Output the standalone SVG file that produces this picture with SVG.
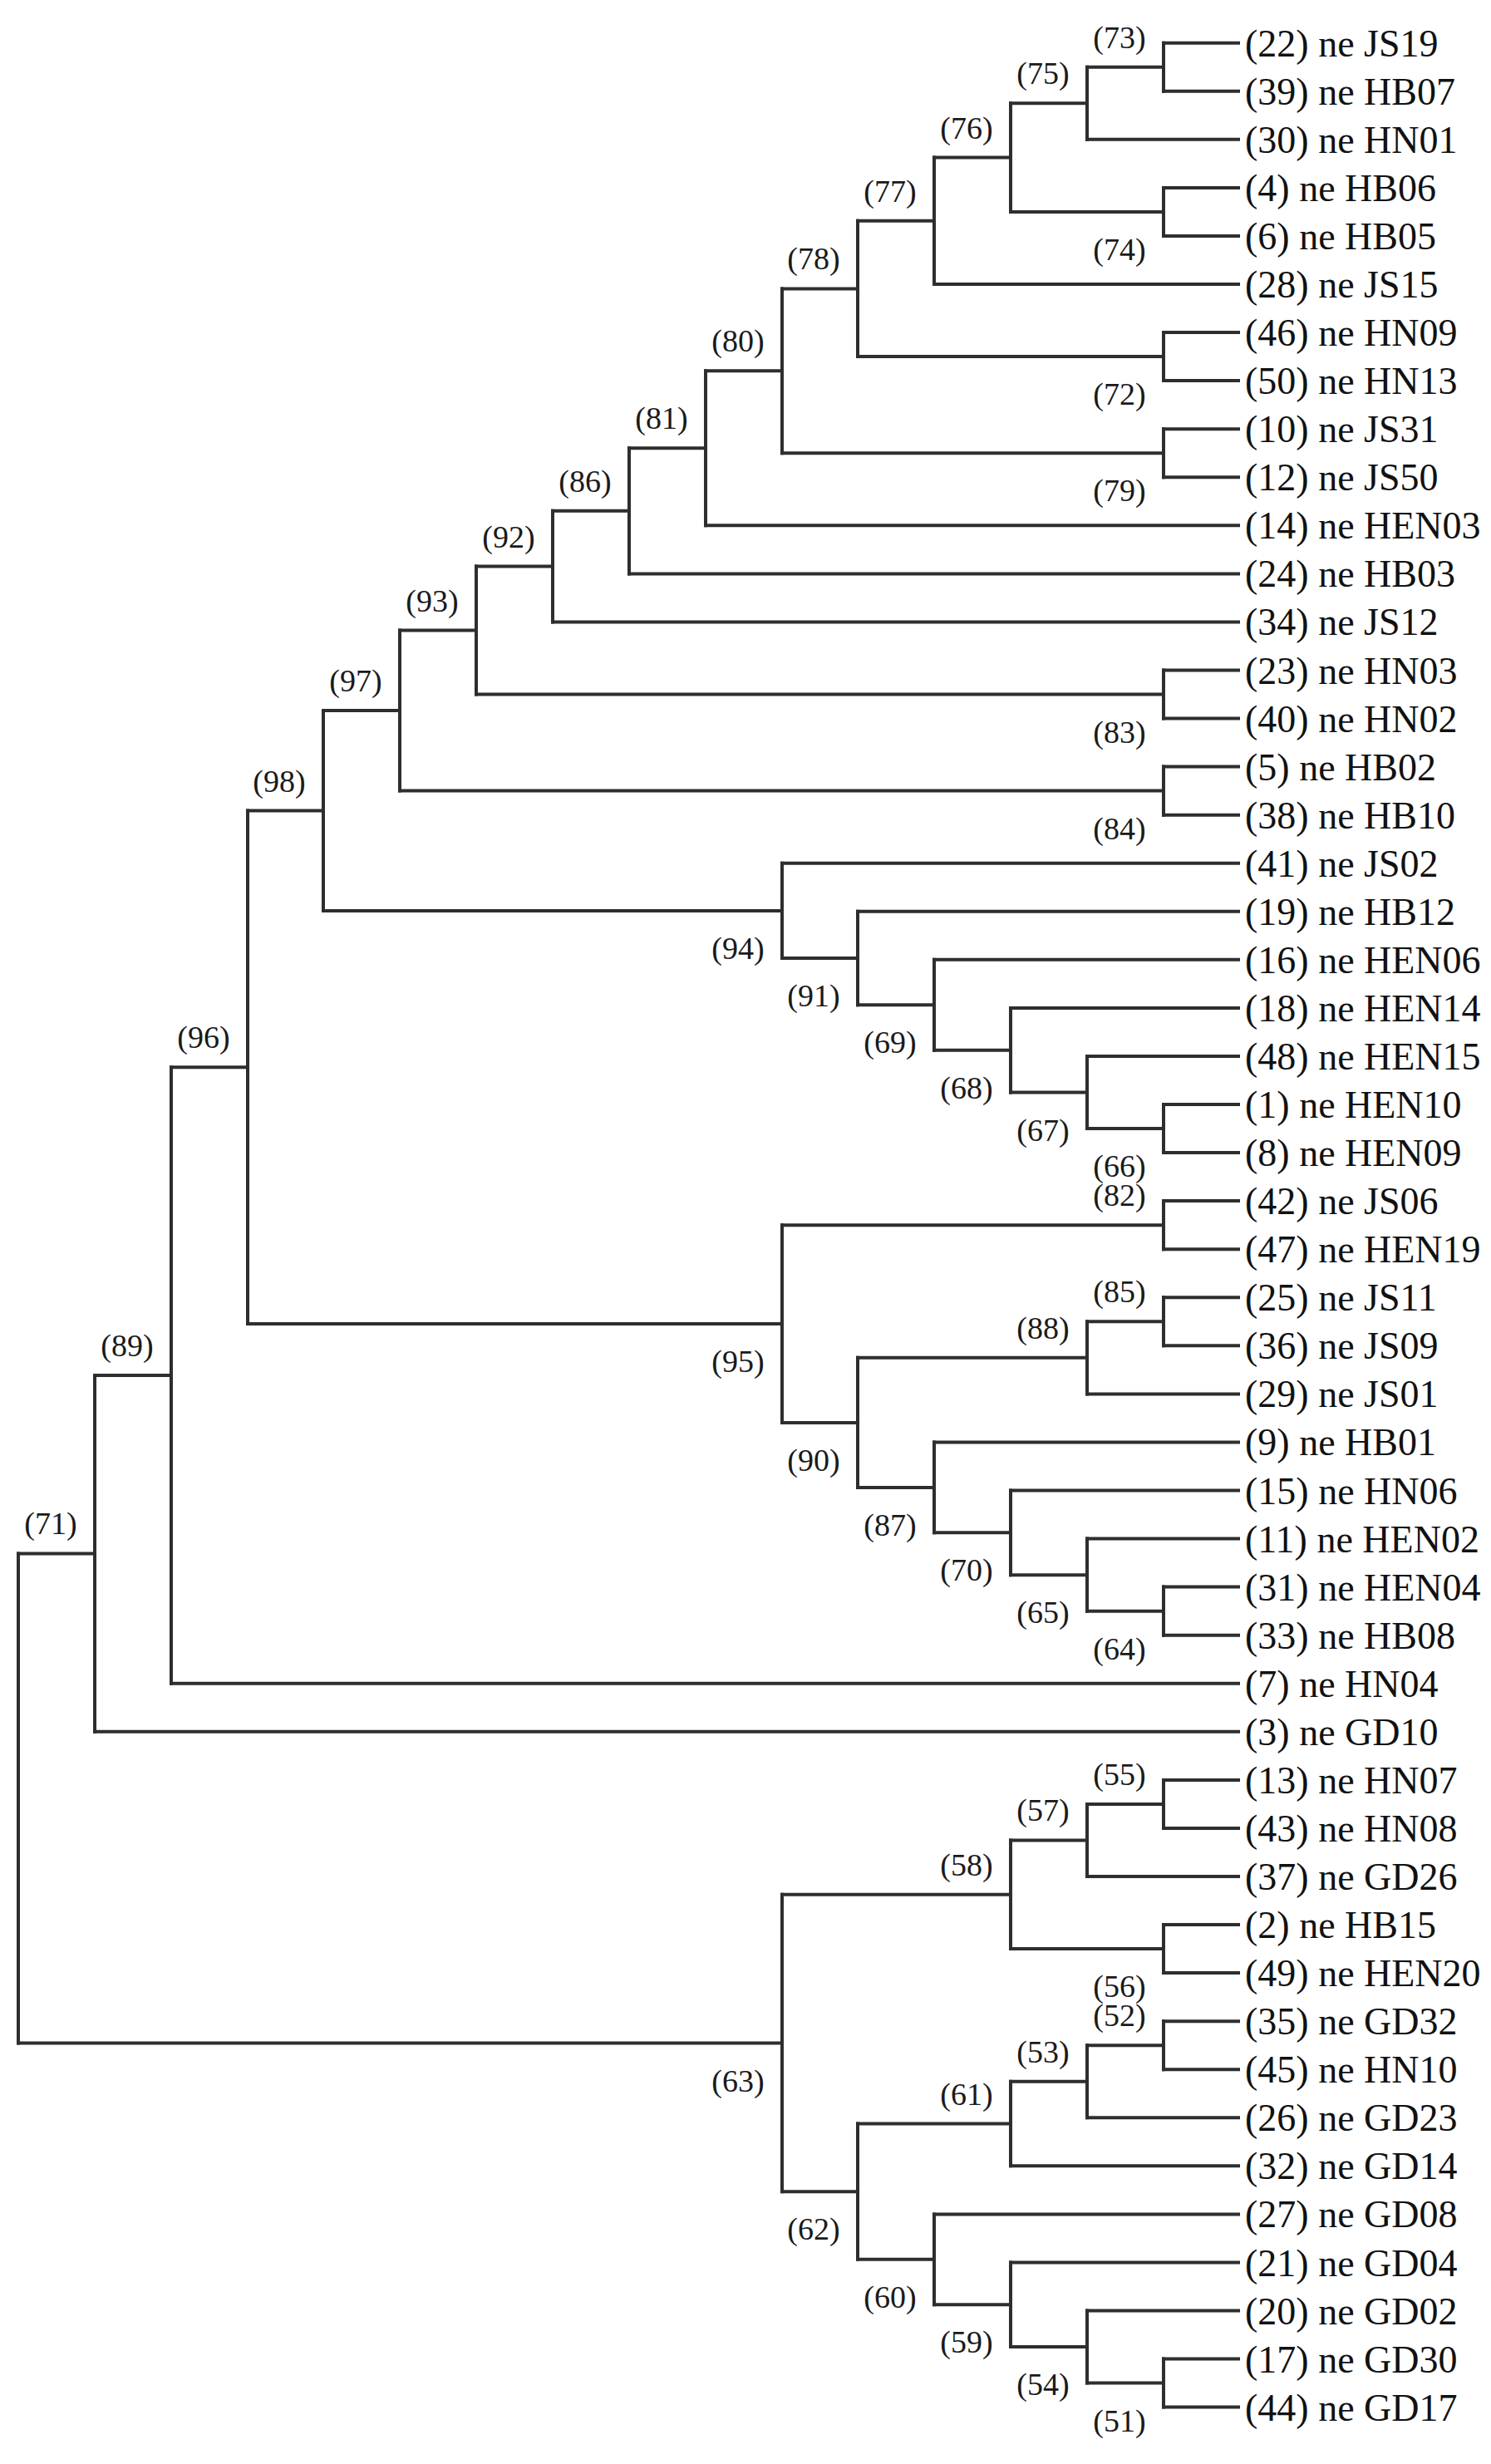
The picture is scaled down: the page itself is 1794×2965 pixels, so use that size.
<svg xmlns="http://www.w3.org/2000/svg" width="1794" height="2965" viewBox="0 0 1794 2965">
<style>
.br{fill:none;stroke:#2e2e2e;stroke-width:4;stroke-linecap:square}
.leaf{font-family:"Liberation Serif","Times New Roman",serif;font-size:46px;fill:#111}
.bl{font-family:"Liberation Serif","Times New Roman",serif;font-size:38px;fill:#1a1a1a;text-anchor:middle}
</style>
<rect width="1794" height="2965" fill="#fff"/>
<g id="connectors" class="br">
<path d="M22 1869.4V2458.5"/>
<path d="M1308 80.7H1400M1400 51.7V109.8"/>
<path d="M1216 124.3H1308M1308 80.7V167.8"/>
<path d="M1216 254.9H1400M1400 225.9V283.9"/>
<path d="M1124 189.6H1216M1216 124.3V254.9"/>
<path d="M1032 265.8H1124M1124 189.6V342"/>
<path d="M1032 429.1H1400M1400 400.1V458.1"/>
<path d="M941 347.4H1032M1032 265.8V429.1"/>
<path d="M941 545.2H1400M1400 516.2V574.2"/>
<path d="M849 446.3H941M941 347.4V545.2"/>
<path d="M757 539.3H849M849 446.3V632.3"/>
<path d="M665 614.8H757M757 539.3V690.4"/>
<path d="M573 681.6H665M665 614.8V748.4"/>
<path d="M573 835.5H1400M1400 806.5V864.5"/>
<path d="M481 758.6H573M573 681.6V835.5"/>
<path d="M481 951.6H1400M1400 922.6V980.7"/>
<path d="M389 855.1H481M481 758.6V951.6"/>
<path d="M1308 1358.1H1400M1400 1329V1387.1"/>
<path d="M1216 1314.5H1308M1308 1271V1358.1"/>
<path d="M1124 1263.7H1216M1216 1212.9V1314.5"/>
<path d="M1032 1209.3H1124M1124 1154.8V1263.7"/>
<path d="M941 1153H1032M1032 1096.8V1209.3"/>
<path d="M389 1095.9H941M941 1038.7V1153"/>
<path d="M298 975.5H389M389 855.1V1095.9"/>
<path d="M941 1474.2H1400M1400 1445.1V1503.2"/>
<path d="M1308 1590.3H1400M1400 1561.3V1619.3"/>
<path d="M1032 1633.8H1308M1308 1590.3V1677.4"/>
<path d="M1308 1938.7H1400M1400 1909.6V1967.7"/>
<path d="M1216 1895.2H1308M1308 1851.6V1938.7"/>
<path d="M1124 1844.3H1216M1216 1793.5V1895.2"/>
<path d="M1032 1789.9H1124M1124 1735.4V1844.3"/>
<path d="M941 1711.9H1032M1032 1633.8V1789.9"/>
<path d="M298 1593H941M941 1474.2V1711.9"/>
<path d="M206 1284.2H298M298 975.5V1593"/>
<path d="M114 1655H206M206 1284.2V2025.7"/>
<path d="M22 1869.4H114M114 1655V2083.8"/>
<path d="M1308 2170.9H1400M1400 2141.9V2199.9"/>
<path d="M1216 2214.4H1308M1308 2170.9V2258"/>
<path d="M1216 2345.1H1400M1400 2316V2374.1"/>
<path d="M941 2279.8H1216M1216 2214.4V2345.1"/>
<path d="M1308 2461.2H1400M1400 2432.2V2490.2"/>
<path d="M1216 2504.7H1308M1308 2461.2V2548.3"/>
<path d="M1032 2555.5H1216M1216 2504.7V2606.3"/>
<path d="M1308 2867.6H1400M1400 2838.6V2896.6"/>
<path d="M1216 2824.1H1308M1308 2780.5V2867.6"/>
<path d="M1124 2773.3H1216M1216 2722.5V2824.1"/>
<path d="M1032 2718.8H1124M1124 2664.4V2773.3"/>
<path d="M941 2637.2H1032M1032 2555.5V2718.8"/>
<path d="M22 2458.5H941M941 2279.8V2637.2"/>
<path d="M1400 51.7H1490M1400 109.8H1490M1308 167.8H1490M1400 225.9H1490M1400 283.9H1490M1124 342H1490M1400 400.1H1490M1400 458.1H1490M1400 516.2H1490M1400 574.2H1490M849 632.3H1490M757 690.4H1490M665 748.4H1490M1400 806.5H1490M1400 864.5H1490M1400 922.6H1490M1400 980.7H1490M941 1038.7H1490M1032 1096.8H1490M1124 1154.8H1490M1216 1212.9H1490M1308 1271H1490M1400 1329H1490M1400 1387.1H1490M1400 1445.1H1490M1400 1503.2H1490M1400 1561.3H1490M1400 1619.3H1490M1308 1677.4H1490M1124 1735.4H1490M1216 1793.5H1490M1308 1851.6H1490M1400 1909.6H1490M1400 1967.7H1490M206 2025.7H1490M114 2083.8H1490M1400 2141.9H1490M1400 2199.9H1490M1308 2258H1490M1400 2316H1490M1400 2374.1H1490M1400 2432.2H1490M1400 2490.2H1490M1308 2548.3H1490M1216 2606.3H1490M1124 2664.4H1490M1216 2722.5H1490M1308 2780.5H1490M1400 2838.6H1490M1400 2896.6H1490"/>
</g>
<g id="leaves" class="leaf">
<g id="leaf-22"><text x="1498" y="67.7">(22) ne JS19</text></g>
<g id="leaf-39"><text x="1498" y="125.8">(39) ne HB07</text></g>
<g id="leaf-30"><text x="1498" y="183.8">(30) ne HN01</text></g>
<g id="leaf-4"><text x="1498" y="241.9">(4) ne HB06</text></g>
<g id="leaf-6"><text x="1498" y="299.9">(6) ne HB05</text></g>
<g id="leaf-28"><text x="1498" y="358">(28) ne JS15</text></g>
<g id="leaf-46"><text x="1498" y="416.1">(46) ne HN09</text></g>
<g id="leaf-50"><text x="1498" y="474.1">(50) ne HN13</text></g>
<g id="leaf-10"><text x="1498" y="532.2">(10) ne JS31</text></g>
<g id="leaf-12"><text x="1498" y="590.2">(12) ne JS50</text></g>
<g id="leaf-14"><text x="1498" y="648.3">(14) ne HEN03</text></g>
<g id="leaf-24"><text x="1498" y="706.4">(24) ne HB03</text></g>
<g id="leaf-34"><text x="1498" y="764.4">(34) ne JS12</text></g>
<g id="leaf-23"><text x="1498" y="822.5">(23) ne HN03</text></g>
<g id="leaf-40"><text x="1498" y="880.5">(40) ne HN02</text></g>
<g id="leaf-5"><text x="1498" y="938.6">(5) ne HB02</text></g>
<g id="leaf-38"><text x="1498" y="996.7">(38) ne HB10</text></g>
<g id="leaf-41"><text x="1498" y="1054.7">(41) ne JS02</text></g>
<g id="leaf-19"><text x="1498" y="1112.8">(19) ne HB12</text></g>
<g id="leaf-16"><text x="1498" y="1170.8">(16) ne HEN06</text></g>
<g id="leaf-18"><text x="1498" y="1228.9">(18) ne HEN14</text></g>
<g id="leaf-48"><text x="1498" y="1287">(48) ne HEN15</text></g>
<g id="leaf-1"><text x="1498" y="1345">(1) ne HEN10</text></g>
<g id="leaf-8"><text x="1498" y="1403.1">(8) ne HEN09</text></g>
<g id="leaf-42"><text x="1498" y="1461.1">(42) ne JS06</text></g>
<g id="leaf-47"><text x="1498" y="1519.2">(47) ne HEN19</text></g>
<g id="leaf-25"><text x="1498" y="1577.3">(25) ne JS11</text></g>
<g id="leaf-36"><text x="1498" y="1635.3">(36) ne JS09</text></g>
<g id="leaf-29"><text x="1498" y="1693.4">(29) ne JS01</text></g>
<g id="leaf-9"><text x="1498" y="1751.4">(9) ne HB01</text></g>
<g id="leaf-15"><text x="1498" y="1809.5">(15) ne HN06</text></g>
<g id="leaf-11"><text x="1498" y="1867.6">(11) ne HEN02</text></g>
<g id="leaf-31"><text x="1498" y="1925.6">(31) ne HEN04</text></g>
<g id="leaf-33"><text x="1498" y="1983.7">(33) ne HB08</text></g>
<g id="leaf-7"><text x="1498" y="2041.7">(7) ne HN04</text></g>
<g id="leaf-3"><text x="1498" y="2099.8">(3) ne GD10</text></g>
<g id="leaf-13"><text x="1498" y="2157.9">(13) ne HN07</text></g>
<g id="leaf-43"><text x="1498" y="2215.9">(43) ne HN08</text></g>
<g id="leaf-37"><text x="1498" y="2274">(37) ne GD26</text></g>
<g id="leaf-2"><text x="1498" y="2332">(2) ne HB15</text></g>
<g id="leaf-49"><text x="1498" y="2390.1">(49) ne HEN20</text></g>
<g id="leaf-35"><text x="1498" y="2448.2">(35) ne GD32</text></g>
<g id="leaf-45"><text x="1498" y="2506.2">(45) ne HN10</text></g>
<g id="leaf-26"><text x="1498" y="2564.3">(26) ne GD23</text></g>
<g id="leaf-32"><text x="1498" y="2622.3">(32) ne GD14</text></g>
<g id="leaf-27"><text x="1498" y="2680.4">(27) ne GD08</text></g>
<g id="leaf-21"><text x="1498" y="2738.5">(21) ne GD04</text></g>
<g id="leaf-20"><text x="1498" y="2796.5">(20) ne GD02</text></g>
<g id="leaf-17"><text x="1498" y="2854.6">(17) ne GD30</text></g>
<g id="leaf-44"><text x="1498" y="2912.6">(44) ne GD17</text></g>
</g>
<g id="nodes" class="bl">
<g id="node-73"><text x="1347" y="57.7">(73)</text></g>
<g id="node-75"><text x="1255" y="101.3">(75)</text></g>
<g id="node-76"><text x="1163" y="166.6">(76)</text></g>
<g id="node-77"><text x="1071" y="242.8">(77)</text></g>
<g id="node-78"><text x="979" y="324.4">(78)</text></g>
<g id="node-80"><text x="888" y="423.3">(80)</text></g>
<g id="node-81"><text x="796" y="516.3">(81)</text></g>
<g id="node-86"><text x="704" y="591.8">(86)</text></g>
<g id="node-92"><text x="612" y="658.6">(92)</text></g>
<g id="node-93"><text x="520" y="735.6">(93)</text></g>
<g id="node-97"><text x="428" y="832.1">(97)</text></g>
<g id="node-98"><text x="336" y="952.5">(98)</text></g>
<g id="node-96"><text x="245" y="1261.2">(96)</text></g>
<g id="node-89"><text x="153" y="1632">(89)</text></g>
<g id="node-71"><text x="61" y="1846.4">(71)</text></g>
<g id="node-82"><text x="1347" y="1451.2">(82)</text></g>
<g id="node-85"><text x="1347" y="1567.3">(85)</text></g>
<g id="node-88"><text x="1255" y="1610.8">(88)</text></g>
<g id="node-55"><text x="1347" y="2147.9">(55)</text></g>
<g id="node-57"><text x="1255" y="2191.4">(57)</text></g>
<g id="node-58"><text x="1163" y="2256.8">(58)</text></g>
<g id="node-52"><text x="1347" y="2438.2">(52)</text></g>
<g id="node-53"><text x="1255" y="2481.7">(53)</text></g>
<g id="node-61"><text x="1163" y="2532.5">(61)</text></g>
<g id="node-74"><text x="1347" y="312.9">(74)</text></g>
<g id="node-72"><text x="1347" y="487.1">(72)</text></g>
<g id="node-79"><text x="1347" y="603.2">(79)</text></g>
<g id="node-83"><text x="1347" y="893.5">(83)</text></g>
<g id="node-84"><text x="1347" y="1009.6">(84)</text></g>
<g id="node-66"><text x="1347" y="1416.1">(66)</text></g>
<g id="node-67"><text x="1255" y="1372.5">(67)</text></g>
<g id="node-68"><text x="1163" y="1321.7">(68)</text></g>
<g id="node-69"><text x="1071" y="1267.3">(69)</text></g>
<g id="node-91"><text x="979" y="1211">(91)</text></g>
<g id="node-94"><text x="888" y="1153.9">(94)</text></g>
<g id="node-64"><text x="1347" y="1996.7">(64)</text></g>
<g id="node-65"><text x="1255" y="1953.2">(65)</text></g>
<g id="node-70"><text x="1163" y="1902.3">(70)</text></g>
<g id="node-87"><text x="1071" y="1847.9">(87)</text></g>
<g id="node-90"><text x="979" y="1769.9">(90)</text></g>
<g id="node-95"><text x="888" y="1651">(95)</text></g>
<g id="node-56"><text x="1347" y="2403.1">(56)</text></g>
<g id="node-51"><text x="1347" y="2925.6">(51)</text></g>
<g id="node-54"><text x="1255" y="2882.1">(54)</text></g>
<g id="node-59"><text x="1163" y="2831.3">(59)</text></g>
<g id="node-60"><text x="1071" y="2776.8">(60)</text></g>
<g id="node-62"><text x="979" y="2695.2">(62)</text></g>
<g id="node-63"><text x="888" y="2516.5">(63)</text></g>
</g>
</svg>
